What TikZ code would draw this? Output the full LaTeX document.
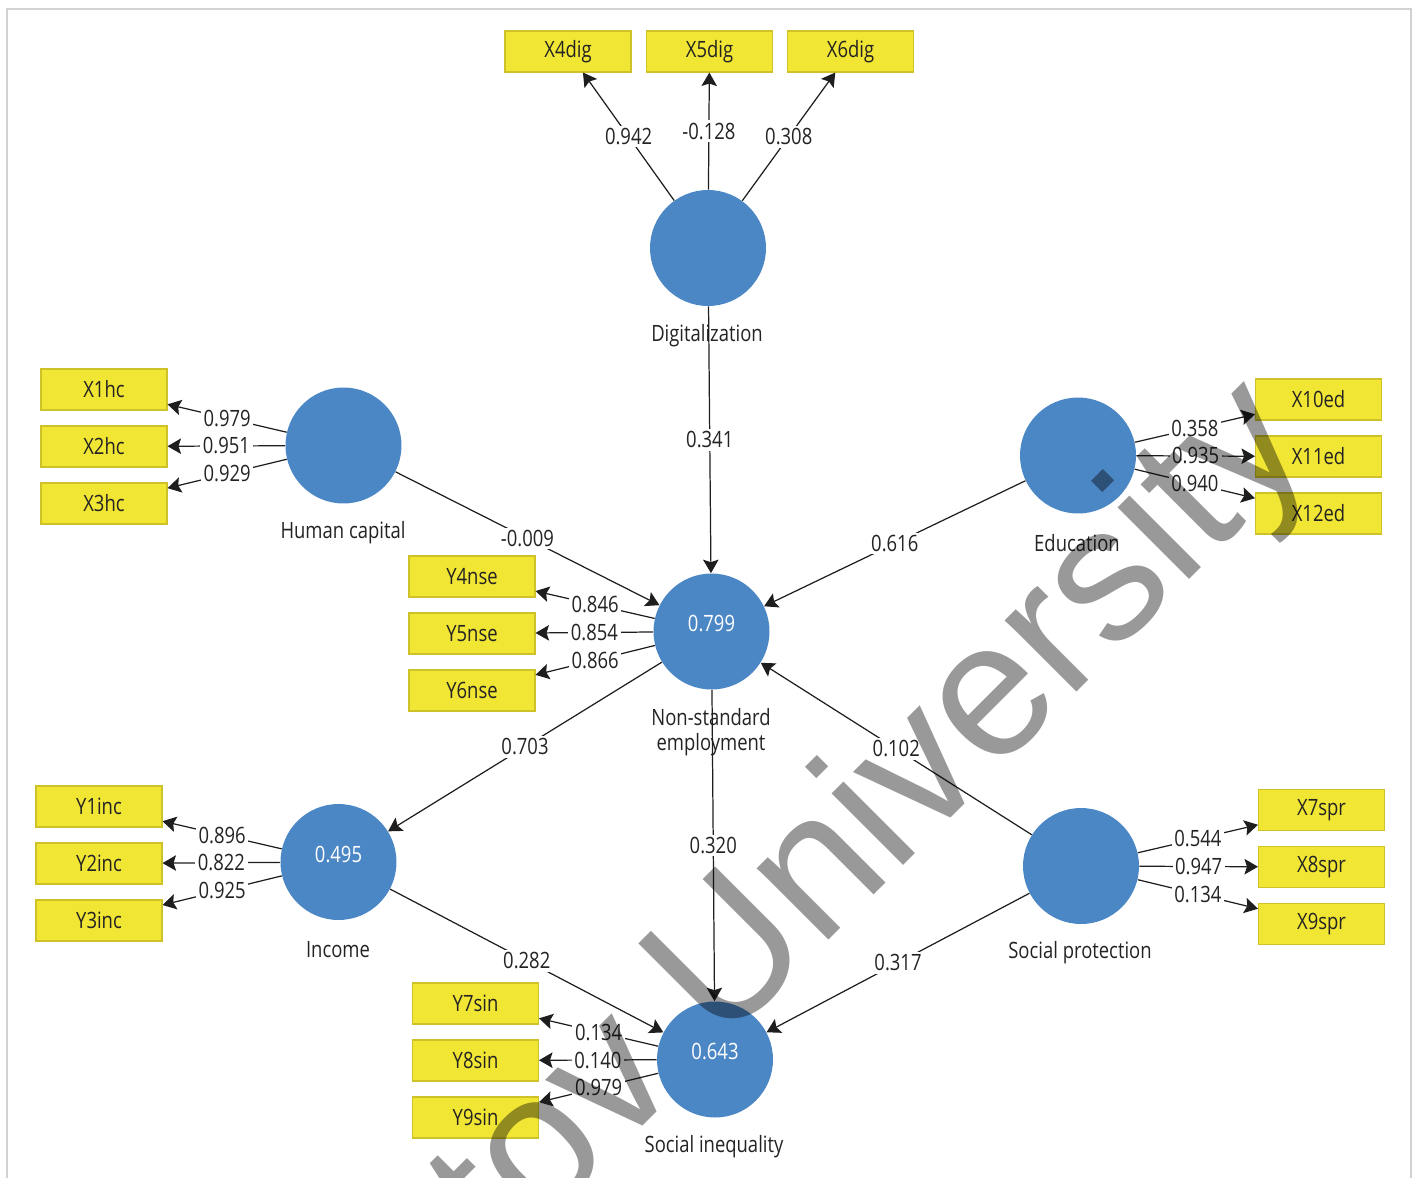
\documentclass[tikz,border=0pt]{standalone}
\usepackage{fontspec}
\usetikzlibrary{arrows.meta}
\setmainfont[FakeStretch=0.82]{Open Sans}
\newfontfamily\wmfont{Liberation Sans}
\newcommand\plsfont{\fontsize{12.8pt}{14.2pt}\selectfont}
\definecolor{mblue}{RGB}{76,135,197}
\definecolor{myellow}{RGB}{242,230,52}
\definecolor{mborder}{RGB}{205,195,40}
\definecolor{mline}{RGB}{30,30,30}
\definecolor{mtext}{RGB}{35,35,35}
\definecolor{mframe}{RGB}{210,210,210}
\tikzset{latent/.style = {circle, fill=mblue, minimum size=2.32cm, inner sep=0pt,
                          text=white, font=\plsfont},
         indicator/.style = {rectangle, fill=myellow, draw=mborder, line width=0.6pt,
                             minimum width=2.52cm, minimum height=0.82cm, inner sep=0pt,
                             text=mtext, font=\plsfont},
         caption/.style = {text=mtext, font=\plsfont, align=center},
         link/.style = {draw=mline, line width=0.7pt,
                        -{Stealth[length=0.27cm, width=0.31cm, inset=0.05cm]}},
         coef/.style = {fill=white, inner sep=1.5pt, text=mtext, font=\plsfont, midway}}

\begin{document}
\begin{tikzpicture}[x=0.02cm, y=-0.02cm]
      \useasboundingbox (0, 0) rectangle (1416, 1177);
      \draw [mframe, line width=0.05cm] (7, 1190) -- (7, 9) -- (1411, 9) -- (1411, 1190);

      % constructs
      \node [latent] (dig) at (708, 248) {};
      \node [latent] (hc) at (343.5, 445.5) {};
      \node [latent] (edu) at (1078, 455.5) {};
      \node [latent] (nse) at (711.5, 631.5) {\smash{0.799}};
      \node [latent] (inc) at (338.5, 862) {\smash{0.495}};
      \node [latent] (sp) at (1081, 866) {};
      \node [latent] (si) at (715, 1059.5) {\smash{0.643}};

      \node [caption] (diglab) at (707, 336) {Digitalization};
      \node [caption] (hclab) at (343, 533) {Human capital};
      \node [caption] (edulab) at (1077, 543) {Education};
      \node [caption] (nselab) at (711, 732) {Non-standard\\employment};
      \node [caption] (inclab) at (338, 950) {Income};
      \node [caption] (splab) at (1080, 953) {Social protection};
      \node [caption] (silab) at (714, 1147) {Social inequality};

      % indicators
      \foreach \name/\x/\y/\txt in {x4/568/51.5/X4dig, x5/709.5/51.5/X5dig, x6/850.5/51.5/X6dig,
                                    x1/104/389.5/X1hc, x2/104/446.5/X2hc, x3/104/503.5/X3hc,
                                    x10/1318.5/399.5/X10ed, x11/1318.5/456.5/X11ed, x12/1318.5/513.5/X12ed,
                                    y4/472/576.5/Y4nse, y5/472/633.5/Y5nse, y6/472/690.5/Y6nse,
                                    y1/99/806.5/Y1inc, y2/99/863.5/Y2inc, y3/99/920.5/Y3inc,
                                    x7/1321.5/810/X7spr, x8/1321.5/867/X8spr, x9/1321.5/924/X9spr,
                                    y7/475.5/1003.5/Y7sin, y8/475.5/1060.5/Y8sin, y9/475.5/1117.5/Y9sin} {
        \node [indicator] (\name) at (\x, \y) {\txt};
      }

      % outer loadings
      \foreach \src/\dst/\val in {dig/x4/0.942, dig/x5/-0.128, dig/x6/0.308,
                                  hc/x1/0.979, hc/x2/0.951, hc/x3/0.929,
                                  edu/x10/0.358, edu/x11/0.935, edu/x12/0.940,
                                  nse/y4/0.846, nse/y5/0.854, nse/y6/0.866,
                                  inc/y1/0.896, inc/y2/0.822, inc/y3/0.925,
                                  sp/x7/0.544, sp/x8/0.947, sp/x9/0.134,
                                  si/y7/0.134, si/y8/0.140, si/y9/0.979} {
        \draw [link] (\src) -- node [coef] {\val} (\dst);
      }

      % path coefficients
      \foreach \src/\dst/\val in {dig/nse/0.341, hc/nse/-0.009, edu/nse/0.616, sp/nse/0.102,
                                  nse/inc/0.703, nse/si/0.320, inc/si/0.282, sp/si/0.317} {
        \draw [link] (\src) -- node [coef] {\val} (\dst);
      }

      \node [anchor=base west, rotate=45, inner sep=0pt, text=black, text opacity=0.4,
             font=\wmfont\fontsize{109pt}{109pt}\selectfont] (mark) at (503, 1266) {tov University};
    \end{tikzpicture}
\end{document}
